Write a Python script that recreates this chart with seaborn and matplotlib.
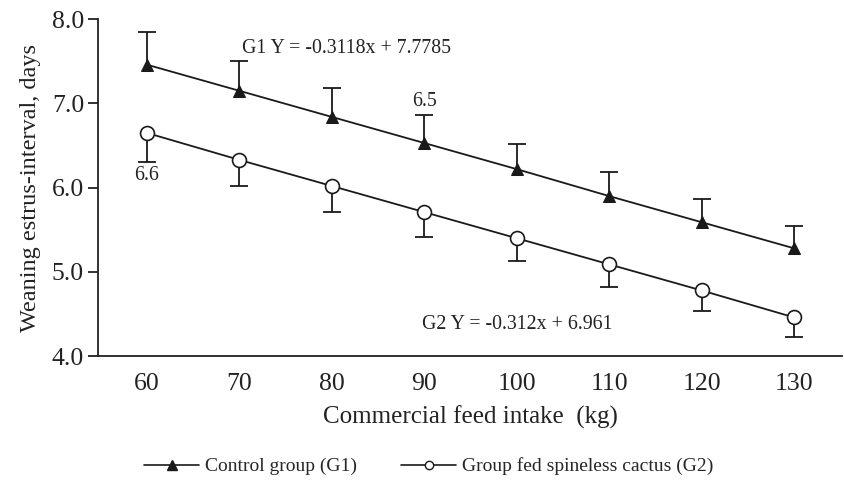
import matplotlib
matplotlib.use("Agg")
import matplotlib.pyplot as plt
import seaborn as sns
import numpy as np
import pandas as pd
from matplotlib.lines import Line2D

feed = [60, 70, 80, 90, 100, 110, 120, 130]
g1_mean = [7.46, 7.15, 6.84, 6.53, 6.22, 5.90, 5.59, 5.28]
g1_upper = [7.85, 7.50, 7.18, 6.86, 6.52, 6.19, 5.87, 5.55]
g2_mean = [6.65, 6.33, 6.02, 5.71, 5.40, 5.09, 4.78, 4.46]
g2_lower = [6.31, 6.02, 5.71, 5.42, 5.13, 4.82, 4.54, 4.23]
labels = ["Control group (G1)", "Group fed spineless cactus (G2)"]

sns.set_theme(style="ticks")
plt.rcParams['font.family'] = ['Liberation Serif', 'DejaVu Serif']

fig = plt.figure(figsize=(8.44, 4.92), dpi=100)
ax = fig.add_axes([0.116, 0.276, 0.882, 0.685])

df = pd.DataFrame({
    "feed": feed * 2,
    "value": g1_mean + g2_mean,
    "group": [labels[0]] * len(feed) + [labels[1]] * len(feed),
})

c = "#1a1a1a"
# one-sided error bars (stem + cap at the far end only)
ax.vlines(feed, g1_mean, g1_upper, colors=c, linewidth=1.3, zorder=2)
ax.plot(feed, g1_upper, ls="none", marker="_", markersize=13, mew=1.3, color=c, zorder=2)
ax.vlines(feed, g2_lower, g2_mean, colors=c, linewidth=1.3, zorder=2)
ax.plot(feed, g2_lower, ls="none", marker="_", markersize=13, mew=1.3, color=c, zorder=2)

sns.lineplot(data=df, x="feed", y="value", hue="group", style="group",
             markers={labels[0]: "^", labels[1]: "o"}, dashes=False,
             palette={labels[0]: c, labels[1]: c}, linewidth=1.3,
             ax=ax, legend=False, zorder=3)
for ln in ax.get_lines():
    if ln.get_marker() == "^":
        ln.set_markersize(9)
        ln.set_markerfacecolor(c)
        ln.set_markeredgecolor(c)
    elif ln.get_marker() == "o":
        ln.set_markersize(10)
        ln.set_markerfacecolor("white")
        ln.set_markeredgecolor(c)
        ln.set_markeredgewidth(1.2)

ax.set_xlim(54.7, 135.2)
ax.set_ylim(4.0, 8.0)
ax.set_xticks(feed)
ax.set_yticks([4.0, 5.0, 6.0, 7.0, 8.0])
ax.set_yticklabels(["4.0", "5.0", "6.0", "7.0", "8.0"])
ax.tick_params(axis="x", length=0, labelsize=18.5, pad=12, colors="#222222")
ax.tick_params(axis="y", length=7, width=1.3, labelsize=18.5, pad=3, colors="#222222")
ax.set_xlabel("Commercial feed intake  (kg)", fontsize=18, labelpad=8, color="#222222")
ax.set_ylabel("Weaning estrus-interval, days", fontsize=17.5, labelpad=8, color="#222222")
for s in ["top", "right"]:
    ax.spines[s].set_visible(False)
for s in ["left", "bottom"]:
    ax.spines[s].set_linewidth(1.3)
    ax.spines[s].set_color("#222222")

ax.text(70.3, 7.65, "G1 Y = -0.3118x + 7.7785", fontsize=14.3, va="center", ha="left", color="#222222")
ax.text(90, 7.02, "6.5", fontsize=14.3, va="center", ha="center", color="#222222")
ax.text(60, 6.14, "6.6", fontsize=14.3, va="center", ha="center", color="#222222")
ax.text(89.7, 4.38, "G2 Y = -0.312x + 6.961", fontsize=14.3, va="center", ha="left", color="#222222")

handles = [
    Line2D([], [], color=c, marker="^", markersize=7, markerfacecolor=c, linewidth=1.2),
    Line2D([], [], color=c, marker="o", markersize=6, markerfacecolor="white", linewidth=1.2),
]
fig.legend(handles, labels, loc="center", bbox_to_anchor=(0.508, 0.052), ncol=2,
           frameon=False, fontsize=14, handlelength=2.8, columnspacing=2.3, handletextpad=0.3)

fig.savefig("out.png", dpi=100)
